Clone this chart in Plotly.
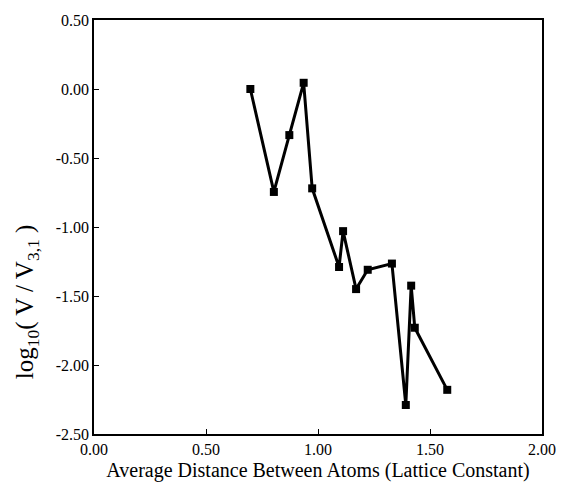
import plotly.graph_objects as go

x_dist = [0.698, 0.803, 0.872, 0.936, 0.974, 1.094, 1.112, 1.170, 1.222, 1.330, 1.392, 1.416, 1.432, 1.577]
log_v = [0.00, -0.746, -0.334, 0.045, -0.72, -1.29, -1.03, -1.45, -1.31, -1.265, -2.29, -1.425, -1.73, -2.18]

x_ticks = [0.0, 0.5, 1.0, 1.5, 2.0]
y_ticks = [0.5, 0.0, -0.5, -1.0, -1.5, -2.0, -2.5]

fig = go.Figure()
fig.add_trace(go.Scatter(
    x=x_dist, y=log_v, mode="lines+markers",
    line=dict(color="black", width=3),
    marker=dict(symbol="square", size=8, color="black"),
    showlegend=False,
))

font = dict(family="Liberation Serif, Times New Roman, serif", color="black")

fig.update_layout(
    width=568, height=490,
    margin=dict(l=94, r=20, t=14, b=52),
    paper_bgcolor="white", plot_bgcolor="white",
    font=dict(size=16, **font),
    xaxis=dict(
        range=[0, 2], tickvals=x_ticks, ticktext=[f"{v:.2f}" for v in x_ticks],
        showline=True, linecolor="black", linewidth=1.5, mirror=True,
        ticks="inside", ticklen=5, tickcolor="black", showgrid=False, zeroline=False,
        tickfont=dict(size=16, **font),
        title=dict(text="Average Distance Between Atoms (Lattice Constant)", font=dict(size=20, **font), standoff=6),
    ),
    yaxis=dict(
        range=[-2.5, 0.5], tickvals=y_ticks, ticktext=[f"{v:.2f}" for v in y_ticks],
        showline=True, linecolor="black", linewidth=1.5, mirror=True,
        ticks="inside", ticklen=5, tickcolor="black", showgrid=False, zeroline=False,
        tickfont=dict(size=16, **font),
    ),
    annotations=[dict(
        text="log<sub>10</sub>( V / V<sub>3,1</sub> )",
        xref="paper", yref="paper", x=-0.15, y=0.32,
        xanchor="center", yanchor="middle", textangle=-90, showarrow=False,
        font=dict(size=25, **font),
    )],
)

fig.write_html("out.html")
